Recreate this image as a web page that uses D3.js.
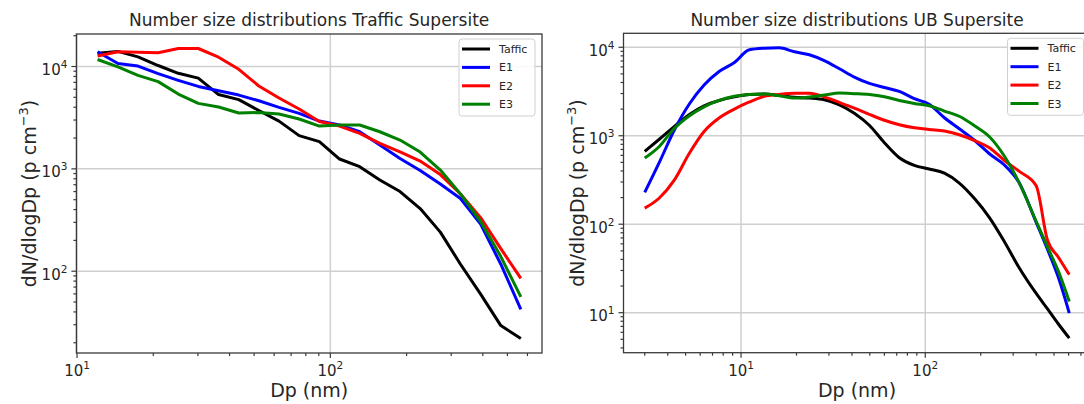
<!DOCTYPE html>
<html>
<head>
<meta charset="utf-8">
<script src="https://d3js.org/d3.v7.min.js"></script>
<style>
  body { margin: 0; background: #fff; }
  text { font-family: "DejaVu Sans", sans-serif; fill: #262626; }
</style>
</head>
<body>
<svg id="chart" width="1084" height="404"></svg>
<script>
// values
const seriesNames = ['Taffic', 'E1', 'E2', 'E3'];
const seriesColors = ['#000000', '#0000ff', '#ff0000', '#008000'];

// Traffic Supersite (left panel)
const trafficDp = [12.05, 14.5, 17.4, 20.9, 25.1, 30.1, 36.2, 43.5, 52.2, 62.7, 75.3, 90.5,
  108.7, 130.6, 156.8, 188.4, 226.3, 271.8, 326.4, 392, 471, 565];
const trafficTaffic = [13460, 14050, 12410, 10230, 8590, 7700, 5320, 4745, 3720, 2926, 2112, 1846,
  1248, 1051, 778, 600, 409, 241, 117, 59.7, 29.4, 22];
const trafficE1 = [13960, 10700, 10110, 8510, 7330, 6390, 5790, 5260, 4630, 3990, 3480, 2933,
  2680, 2305, 1710, 1262, 962, 710, 513, 289, 117, 42.4];
const trafficE2 = [12660, 13960, 13770, 13650, 15000, 15000, 12330, 9390, 6450, 4920, 3845, 2898,
  2618, 2222, 1775, 1469, 1192, 879, 568, 334, 166, 85.2];
const trafficE3 = [11710, 9910, 8200, 7120, 5380, 4365, 4017, 3510, 3550, 3432, 3069, 2620,
  2680, 2680, 2305, 1913, 1459, 973, 568, 306, 139, 56.2];

// UB Supersite (right panel)
const ubDp = [3.0, 3.6, 4.35, 5.25, 6.3, 7.6, 9.2, 11.1, 13.4, 16.1, 19.5, 23.5, 28.3, 34.2, 41.2,
  49.7, 60, 72.3, 87.2, 105, 127, 153, 185, 223, 268, 324, 400, 460, 527, 605];
const ubTaffic = [665, 913, 1274, 1741, 2177, 2506, 2751, 2921, 2959, 2853, 2723, 2667, 2551, 2240, 1796,
  1314, 834, 564, 463, 421, 377, 292, 195, 119, 64.3, 32.0, 16.5, 11.1, 7.5, 5.15];
const ubE1 = [229, 500, 1169, 2299, 3750, 5328, 6733, 9371, 9750, 9860, 8897, 8228, 7057, 5716, 4607,
  3910, 3514, 3167, 2626, 2269, 1597, 1200, 890, 626, 470, 292, 105, 52.5, 25.3, 9.9];
const ubE2 = [152, 198, 317, 637, 1116, 1585, 2003, 2409, 2788, 2929, 3014, 3014, 2751, 2378, 2050,
  1745, 1497, 1331, 1231, 1178, 1133, 1026, 883, 732, 529, 395, 272, 66.8, 42.6, 26.9];
const ubE3 = [560, 757, 1215, 1683, 2121, 2506, 2795, 2929, 2959, 2831, 2667, 2744, 2884, 3038, 2990,
  2921, 2758, 2506, 2317, 2183, 1902, 1661, 1297, 974, 594, 292, 108, 55.7, 29.7, 13.4];

const xTickValues = [10, 100];
const yTicksTraffic = [100, 1000, 10000];
const yTicksUB = [10, 100, 1000, 10000];

const svg = d3.select('#chart');

// log domain with matplotlib-like 5% margins
function logDomain(values) {
  const lo = Math.log10(d3.min(values)), hi = Math.log10(d3.max(values));
  const m = (hi - lo) * 0.05;
  return [Math.pow(10, lo - m), Math.pow(10, hi + m)];
}

function powLabel(sel, v) {
  sel.append('tspan').text('10');
  sel.append('tspan').attr('dy', -7).style('font-size', '10.5px').text(Math.round(Math.log10(v)));
}

function drawPanel(p) {
  const allY = [].concat(...p.series);
  const xs = d3.scaleLog().domain(logDomain(p.dp)).range([p.x0, p.x1]);
  const ys = d3.scaleLog().domain(logDomain(allY)).range([p.y1, p.y0]);
  const g = svg.append('g').attr('id', p.id);

  const isMajor = t => Math.abs(Math.log10(t) - Math.round(Math.log10(t))) < 1e-9;
  const xAll = xs.ticks().filter(t => xs(t) >= p.x0 - 0.5 && xs(t) <= p.x1 + 0.5);
  const yAll = ys.ticks().filter(t => ys(t) >= p.y0 - 0.5 && ys(t) <= p.y1 + 0.5);

  // grid at major ticks
  g.append('g').selectAll('line').data(p.xTicks).enter().append('line')
    .attr('x1', d => xs(d)).attr('x2', d => xs(d)).attr('y1', p.y0).attr('y2', p.y1)
    .attr('stroke', '#cfcfcf').attr('stroke-width', 1.5);
  g.append('g').selectAll('line').data(p.yTicks).enter().append('line')
    .attr('y1', d => ys(d)).attr('y2', d => ys(d)).attr('x1', p.x0).attr('x2', p.x1)
    .attr('stroke', '#cfcfcf').attr('stroke-width', 1.5);

  // clip region for the curves
  g.append('clipPath').attr('id', p.id + 'clip').append('rect')
    .attr('x', p.x0).attr('y', p.y0).attr('width', p.x1 - p.x0).attr('height', p.y1 - p.y0);

  const line = d3.line().x(d => xs(d[0])).y(d => ys(d[1])).curve(p.curve);
  g.append('g').attr('clip-path', 'url(#' + p.id + 'clip)')
    .selectAll('path').data(p.series).enter().append('path')
    .attr('d', vals => line(vals.map((v, i) => [p.dp[i], v])))
    .attr('fill', 'none')
    .attr('stroke', (d, i) => seriesColors[i])
    .attr('stroke-width', 3)
    .attr('stroke-linejoin', 'round');

  // spines
  g.append('rect').attr('x', p.x0).attr('y', p.y0)
    .attr('width', p.x1 - p.x0).attr('height', p.y1 - p.y0)
    .attr('fill', 'none').attr('stroke', '#3a3a3a').attr('stroke-width', 1.3);

  // ticks
  g.append('g').selectAll('line').data(xAll).enter().append('line')
    .attr('x1', d => xs(d)).attr('x2', d => xs(d))
    .attr('y1', p.y1).attr('y2', d => p.y1 + (isMajor(d) ? 5 : 3))
    .attr('stroke', '#3a3a3a').attr('stroke-width', 1.2);
  g.append('g').selectAll('line').data(yAll).enter().append('line')
    .attr('y1', d => ys(d)).attr('y2', d => ys(d))
    .attr('x1', p.x0).attr('x2', d => p.x0 - (isMajor(d) ? 5 : 3))
    .attr('stroke', '#3a3a3a').attr('stroke-width', 1.2);

  // tick labels
  g.append('g').selectAll('text').data(p.xTicks).enter().append('text')
    .attr('x', d => xs(d)).attr('y', p.y1 + 23)
    .style('text-anchor', 'middle').style('font-size', '15px')
    .each(function(d) { powLabel(d3.select(this), d); });
  g.append('g').selectAll('text').data(p.yTicks).enter().append('text')
    .attr('x', p.x0 - 9).attr('y', d => ys(d) + 8.5)
    .style('text-anchor', 'end').style('font-size', '15px')
    .each(function(d) { powLabel(d3.select(this), d); });

  // title and axis labels
  g.append('text').attr('x', (p.x0 + p.x1) / 2).attr('y', 26)
    .style('text-anchor', 'middle').style('font-size', '17px').text(p.title);
  g.append('text').attr('x', (p.x0 + p.x1) / 2).attr('y', p.y1 + 44)
    .style('text-anchor', 'middle').style('font-size', '19px').text('Dp (nm)');
  const yl = g.append('text')
    .attr('transform', 'translate(' + (p.x0 - 40) + ',' + ((p.y0 + p.y1) / 2) + ') rotate(-90)')
    .style('text-anchor', 'middle').style('font-size', '19px');
  yl.append('tspan').text('dN/dlogDp (p cm');
  yl.append('tspan').attr('dy', -8).style('font-size', '13px').text('\u22123');
  yl.append('tspan').attr('dy', 8).text(')');

  // legend
  const lw = 76, lh = 77;
  const lx = p.x1 - 7 - lw, ly = p.y0 + 5;
  const leg = g.append('g').attr('transform', 'translate(' + lx + ',' + ly + ')');
  leg.append('rect').attr('width', lw).attr('height', lh).attr('rx', 3)
    .attr('fill', 'white').attr('fill-opacity', 0.85)
    .attr('stroke', '#d0d0d0').attr('stroke-width', 1);
  const rows = leg.selectAll('g').data(seriesNames).enter().append('g')
    .attr('transform', (d, i) => 'translate(0,' + (10 + i * 18.4) + ')');
  rows.append('line').attr('x1', 3).attr('x2', 31)
    .attr('stroke', (d, i) => seriesColors[i]).attr('stroke-width', 3);
  rows.append('text').attr('x', 40).attr('y', 4).style('font-size', '11px').text(d => d);
}

drawPanel({
  id: 'traffic', title: 'Number size distributions Traffic Supersite',
  x0: 76.4, x1: 542, y0: 34, y1: 353,
  dp: trafficDp, series: [trafficTaffic, trafficE1, trafficE2, trafficE3],
  xTicks: xTickValues, yTicks: yTicksTraffic, curve: d3.curveLinear
});

drawPanel({
  id: 'ub', title: 'Number size distributions UB Supersite',
  x0: 623.5, x1: 1090.5, y0: 33.3, y1: 352.7,
  dp: ubDp, series: [ubTaffic, ubE1, ubE2, ubE3],
  xTicks: xTickValues, yTicks: yTicksUB, curve: d3.curveMonotoneX
});
</script>
</body>
</html>
